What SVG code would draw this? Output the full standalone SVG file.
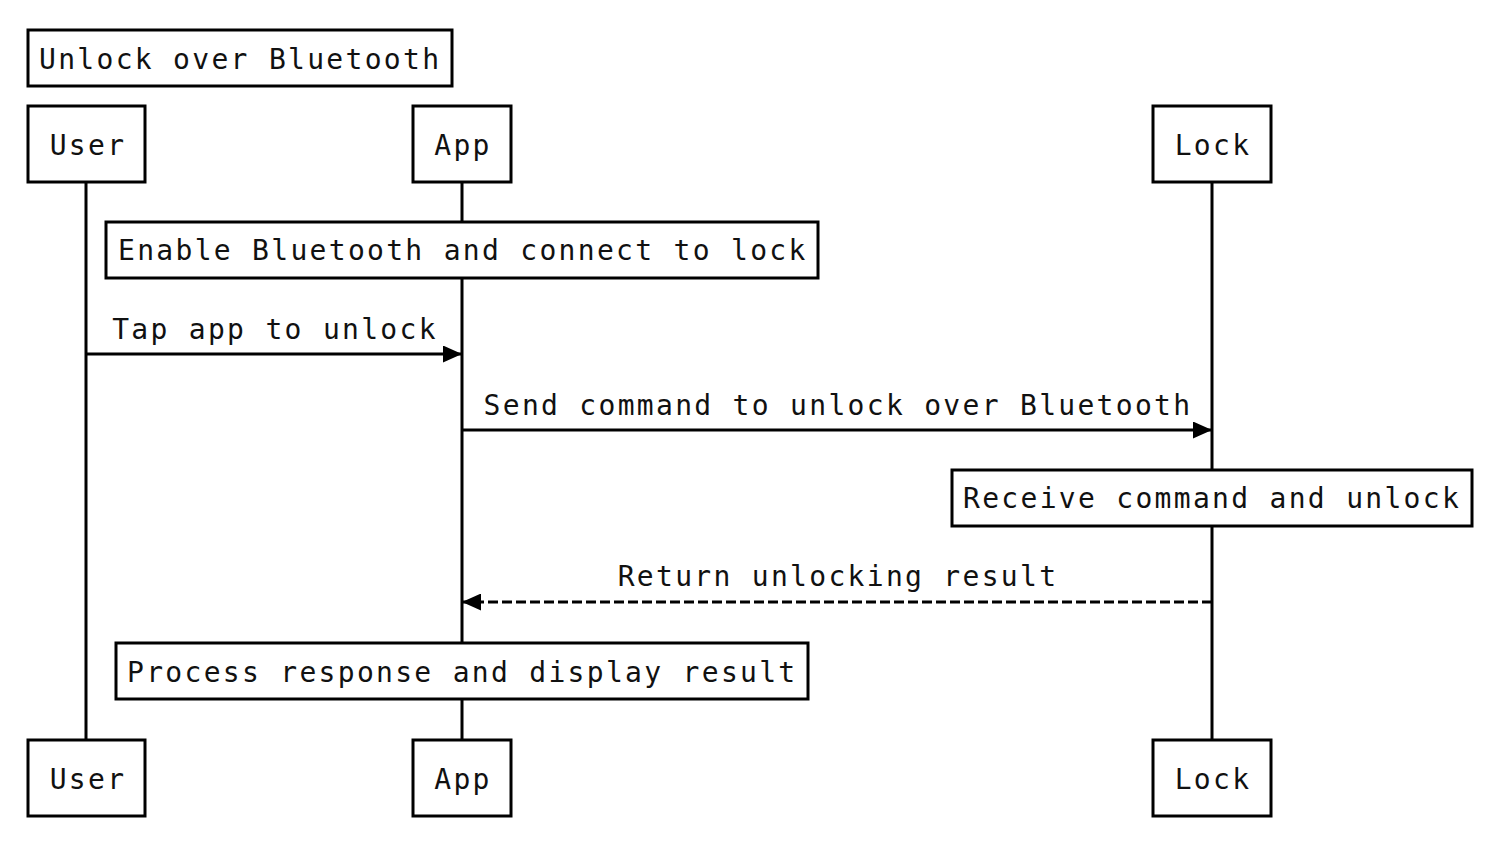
<svg xmlns="http://www.w3.org/2000/svg" width="1492" height="852" viewBox="0 0 1492 852">
<style>
.box{fill:#fff;stroke:#000;stroke-width:3}
.life{stroke:#000;stroke-width:3;fill:none}
.msg{stroke:#000;stroke-width:3;fill:none}
.dash{stroke-dasharray:10 4}
text{font-family:"DejaVu Sans Mono","Liberation Mono",monospace;font-size:28px;letter-spacing:2.3px;fill:#111}
.c{text-anchor:middle}
</style>
<defs>
<marker id="arr" viewBox="0 0 19 17" refX="19" refY="8.5" markerWidth="19" markerHeight="17" markerUnits="userSpaceOnUse" orient="auto">
<path d="M0,0 L19,8.5 L0,17 z" fill="#000"/>
</marker>
</defs>
<rect width="1492" height="852" fill="#fff"/>
<g id="lifelines">
<line class="life" x1="86" y1="182" x2="86" y2="740"/>
<line class="life" x1="462" y1="182" x2="462" y2="740"/>
<line class="life" x1="1212" y1="182" x2="1212" y2="740"/>
</g>
<g id="title"><rect class="box" x="28" y="30" width="424" height="56"/><text x="39" y="69">Unlock over Bluetooth</text></g>
<g id="user-top"><rect class="box" x="28" y="106" width="117" height="76"/><text class="c" x="88" y="155">User</text></g>
<g id="app-top"><rect class="box" x="413" y="106" width="98" height="76"/><text class="c" x="463" y="155">App</text></g>
<g id="lock-top"><rect class="box" x="1153" y="106" width="118" height="76"/><text class="c" x="1213" y="155">Lock</text></g>
<g id="note-enable"><rect class="box" x="106" y="222" width="712" height="56"/><text x="118" y="260">Enable Bluetooth and connect to lock</text></g>
<g id="connectors">
<line class="msg" x1="86" y1="354" x2="462" y2="354" marker-end="url(#arr)"/>
<text class="c" x="275" y="339">Tap app to unlock</text>
<line class="msg" x1="462" y1="430" x2="1212" y2="430" marker-end="url(#arr)"/>
<text class="c" x="838" y="415">Send command to unlock over Bluetooth</text>
<line class="msg dash" x1="1212" y1="602" x2="462" y2="602" marker-end="url(#arr)"/>
<text class="c" x="838" y="586">Return unlocking result</text>
</g>
<g id="note-receive"><rect class="box" x="952" y="470" width="520" height="56"/><text x="963" y="508">Receive command and unlock</text></g>
<g id="note-process"><rect class="box" x="116" y="643" width="692" height="56"/><text x="127" y="682">Process response and display result</text></g>
<g id="user-bottom"><rect class="box" x="28" y="740" width="117" height="76"/><text class="c" x="88" y="789">User</text></g>
<g id="app-bottom"><rect class="box" x="413" y="740" width="98" height="76"/><text class="c" x="463" y="789">App</text></g>
<g id="lock-bottom"><rect class="box" x="1153" y="740" width="118" height="76"/><text class="c" x="1213" y="789">Lock</text></g>
</svg>
